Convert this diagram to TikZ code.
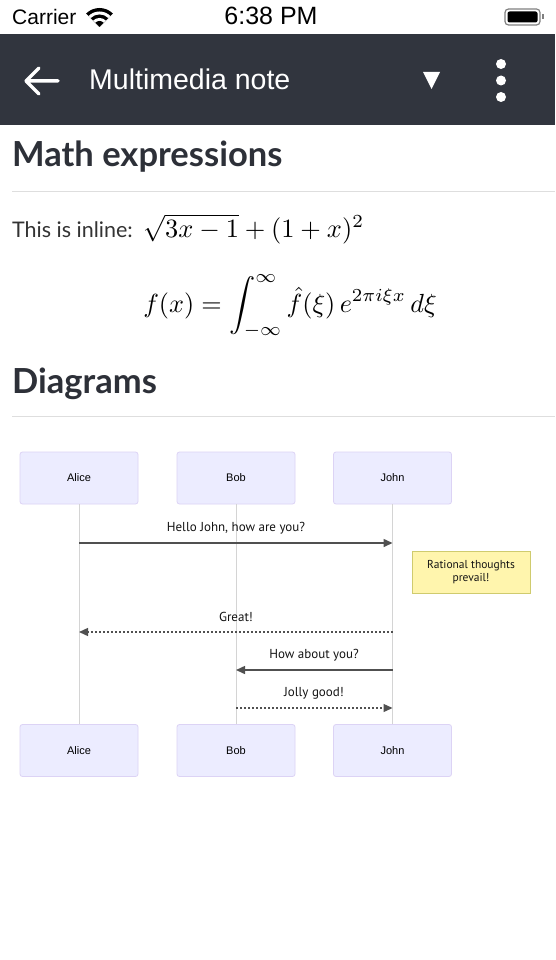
\documentclass[tikz,border=0pt]{standalone}
\usepackage{graphicx}
\usepackage{fontspec}
\newfontfamily\latofont{Lato}
\newfontfamily\arialfont{Liberation Sans}
\newfontfamily\msgfont{PT Sans}
\usetikzlibrary{arrows.meta}
\definecolor{hdr}{RGB}{49,53,62}
\definecolor{headc}{RGB}{45,48,56}
\definecolor{bodyc}{RGB}{51,51,51}
\definecolor{rulec}{RGB}{222,222,222}
\definecolor{actfill}{HTML}{ECECFF}
\definecolor{actline}{HTML}{DCD3F5}
\definecolor{lifec}{RGB}{212,212,212}
\definecolor{msgc}{RGB}{80,80,80}
\definecolor{notefill}{HTML}{FFF5AD}
\definecolor{noteline}{HTML}{CFCB6E}
\tikzset{
  actor/.style={draw=actline, fill=actfill, line width=0.8, rounded corners=2.5,
    minimum width=118, minimum height=52, inner sep=0,
    font=\arialfont\fontsize{11}{13}\selectfont, text=black},
  lifeline/.style={draw=lifec, line width=1},
  msgline/.style={draw=msgc, line width=1.5},
  dotline/.style={draw=msgc, line width=1.3, dash pattern=on 2pt off 2pt},
  tip/.style={-{Triangle[length=9,width=8]}},
  lbl/.style={inner sep=0, font=\msgfont\fontsize{13}{15}\selectfont, text=black!92},
  notebox/.style={draw=noteline, fill=notefill, line width=0.9,
    minimum width=118, minimum height=42, inner sep=0, align=center,
    font=\msgfont\fontsize{11.5}{13}\selectfont, text=black!92},
  heading/.style={anchor=base west, inner sep=0,
    font=\latofont\bfseries\fontsize{34.5}{38}\selectfont, text=headc},
  hrule/.style={draw=rulec, line width=1}
}
\begin{document}
\begin{tikzpicture}[x=1pt,y=-1pt]
\useasboundingbox (0,0) rectangle (555,960);
\fill[white] (0,0) rectangle (555,960);

% status bar
\node[anchor=base west, inner sep=0, font=\arialfont\fontsize{21}{24}\selectfont] (carrier) at (12,25) {Carrier};
\coordinate (wifi) at (99.5,27);
\fill[black] (wifi) -- ++(225:19) arc[start angle=225,end angle=315,radius=19] -- cycle;
\fill[white] (wifi) -- ++(225:15.5) arc[start angle=225,end angle=315,radius=15.5] -- cycle;
\fill[black] (wifi) -- ++(225:12.5) arc[start angle=225,end angle=315,radius=12.5] -- cycle;
\fill[white] (wifi) -- ++(225:9) arc[start angle=225,end angle=315,radius=9] -- cycle;
\fill[black] (wifi) -- ++(225:6) arc[start angle=225,end angle=315,radius=6] -- cycle;
\node[anchor=base, inner sep=0, font=\arialfont\fontsize{25}{27}\selectfont] (time) at (271,25) {6:38 PM};
\draw[black!50, line width=1.2, rounded corners=3.5] (505,9) rectangle (540,25);
\fill[black, rounded corners=2] (507.5,11.5) rectangle (537.5,22.5);
\fill[black!50] (541.5,14.5) rectangle (543.5,19.5);

% header
\fill[hdr] (0,34) rectangle (555,125);
\draw[white, line width=3.5, line cap=round, line join=round]
  (58,81) -- (26,81) (39,68) -- (26,81) -- (39,94);
\node[anchor=base west, inner sep=0, font=\arialfont\fontsize{28.5}{30}\selectfont, text=white] (title) at (89,90) {Multimedia note};
\fill[white] (423,72) -- (440,72) -- (431.5,89) -- cycle;
\fill[white] (501,64) circle (5) (501,80.5) circle (5) (501,97) circle (5);

% math section
\node[heading] (h1) at (12,167) {Math expressions};
\draw[hrule] (12,191) -- (555,191);
\node[anchor=base west, inner sep=0, font=\latofont\fontsize{21.5}{26}\selectfont, text=bodyc] (inl) at (12,237) {This is inline:};
\node[anchor=base west, inner sep=0, text=black] (im) at (143,237) {\scalebox{2.64}{$\sqrt{3x-1}+(1+x)^2$}};
\node[anchor=base, inner sep=0, text=black] (dm) at (290,312) {\scalebox{2.62}{$\displaystyle f(x) = \int_{-\infty}^{\infty} \hat f(\xi)\,e^{2\pi i\xi x}\,d\xi$}};

% diagrams section
\node[heading] (h2) at (12,393) {Diagrams};
\draw[hrule] (12,416) -- (555,416);

\node[actor] (at) at (79,478) {Alice};
\node[actor] (bt) at (236,478) {Bob};
\node[actor] (jt) at (392.5,478) {John};
\node[actor] (ab) at (79,750.5) {Alice};
\node[actor] (bb) at (236,750.5) {Bob};
\node[actor] (jb) at (392.5,750.5) {John};
\draw[lifeline] (at.south) -- (ab.north);
\draw[lifeline] (bt.south) -- (bb.north);
\draw[lifeline] (jt.south) -- (jb.north);

\coordinate (m1) at (0,543);
\coordinate (m2) at (0,632);
\coordinate (m3) at (0,670);
\coordinate (m4) at (0,708);
\draw[msgline, tip] (at |- m1) -- (jt |- m1);
\node[lbl] (l1) at (236,528) {Hello John, how are you?};
\node[notebox] (note) at (471,572) {Rational thoughts\\prevail!};
\draw[dotline, tip] (jt |- m2) -- (at |- m2);
\node[lbl] (l2) at (236,617) {Great!};
\draw[msgline, tip] (jt |- m3) -- (bt |- m3);
\node[lbl] (l3) at (314,655) {How about you?};
\draw[dotline, tip] (bt |- m4) -- (jt |- m4);
\node[lbl] (l4) at (314,693) {Jolly good!};
\end{tikzpicture}
\end{document}
